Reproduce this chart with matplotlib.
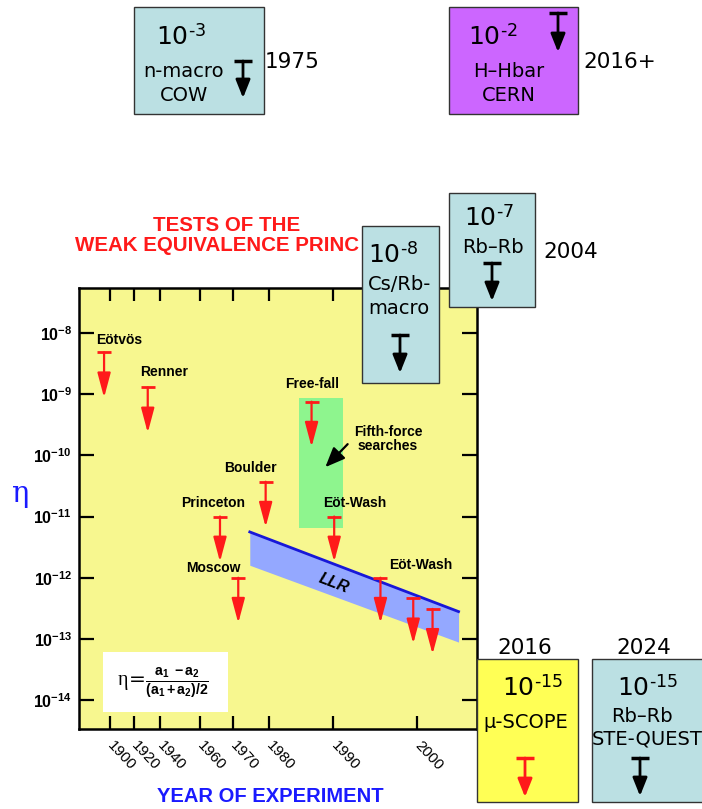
import numpy as np
import matplotlib.pyplot as plt
from matplotlib.patches import Rectangle

plt.rcParams['font.family'] = 'Liberation Sans'
plt.rcParams['mathtext.fontset'] = 'custom'
plt.rcParams['mathtext.rm'] = 'DejaVu Sans'
plt.rcParams['mathtext.bf'] = 'Liberation Sans:bold'
plt.rcParams['mathtext.it'] = 'Liberation Serif'

# --- data -------------------------------------------------------------
# upper limits on eta (the cap of each red arrow)
LIMIT_YEARS = [1895, 1930.5, 1966, 1971.4, 1979, 1986.6, 1990.1, 1995.6, 1999.5, 2001.8]
LIMIT_ETA = [4.8e-9, 1.28e-9, 1e-11, 1e-12, 3.7e-11, 7.5e-10, 1e-11, 1e-12, 4.6e-13, 3.1e-13]

# experiment names
LABELS = ["Eötvös", "Renner", "Princeton", "Moscow", "Boulder", "Free-fall", "Eöt-Wash", "Eöt-Wash"]
LABEL_YEARS = [1888.3, 1924.6, 1950.5, 1953, 1967.3, 1986.7, 1992.5, 2000.4]
LABEL_ETA = [7.6e-9, 2.3e-9, 1.66e-11, 1.44e-12, 6.2e-11, 1.46e-9, 1.66e-11, 1.61e-12]
LABEL_HA = ["left"] * 5 + ["center"] * 3

# fifth-force searches band
FIFTH_YEARS = [1984.7, 1991.1]
FIFTH_ETA = [6.6e-12, 8.6e-10]

# lunar laser ranging band
LLR_YEARS = [1974.6, 2004.9]
LLR_TOP = [5.6e-12, 2.8e-13]
LLR_BOTTOM = [1.6e-12, 8.9e-14]

TICK_YEARS = [1900, 1920, 1940, 1960, 1970, 1980, 1990, 2000]
ETA_TICKS = [1e-14, 1e-13, 1e-12, 1e-11, 1e-10, 1e-9, 1e-8]
ETA_TICK_LABELS = ["-14", "-13", "-12", "-11", "-10", "-9", "-8"]

# boxes for other experiments
BOX_EXP = ["-3", "-2", "-8", "-7", "-15", "-15"]
BOX_NAMES = ["n-macro\nCOW", "H–Hbar\nCERN", "Cs/Rb-\nmacro", "Rb–Rb", "μ-SCOPE", "Rb–Rb\nSTE-QUEST"]
BOX_YEARS = ["1975", "2016+", "2004", "2004", "2016", "2024"]

# --- the non uniform year axis of the original figure ---
AX_YEARS = [1874, 1900, 1920, 1940, 1960, 1970, 1980, 1990, 2000, 2008]
AX_POS = [79, 110, 134, 160, 200, 233, 269, 333, 417, 484]


def fwd(x):
    return np.interp(x, AX_YEARS, AX_POS)


def inv(p):
    return np.interp(p, AX_POS, AX_YEARS)


W, H = 702, 809
fig = plt.figure(figsize=(W / 100, H / 100), dpi=100)

L, R, T, B = 79, 477, 287.5, 729
ax = fig.add_axes([L / W, 1 - B / H, (R - L) / W, (B - T) / H], zorder=1)
ax.set_facecolor('#f7f78f')
ax.set_xscale('function', functions=(fwd, inv))
ax.set_yscale('log')
ax.set_xlim(1874, 2007.1)
ax.set_ylim(10 ** -14.47, 10 ** -7.26)

for sp in ax.spines.values():
    sp.set_linewidth(1.8)
ax.set_xticks(TICK_YEARS)
ax.set_xticklabels([str(y) for y in TICK_YEARS], rotation=-47, ha='left',
                   va='center', rotation_mode='anchor', fontsize=11)
ax.set_yticks(ETA_TICKS)
ax.set_yticklabels([r'$\mathbf{10^{%s}}$' % e for e in ETA_TICK_LABELS], fontsize=11.5)
ax.minorticks_off()
ax.tick_params(axis='x', direction='in', top=True, length=9.5, width=1.6, pad=10)
ax.tick_params(axis='y', direction='in', right=True, length=11, width=1.6, pad=5)

# fifth-force band
ax.fill_between(FIFTH_YEARS, FIFTH_ETA[0], FIFTH_ETA[1], color='#8ef58e', lw=0, zorder=1)

# LLR band
ax.fill_between(LLR_YEARS, LLR_BOTTOM, LLR_TOP, color='#94a8ff', lw=0, zorder=2)
ax.plot(LLR_YEARS, LLR_TOP, color='#1818d8', lw=2, zorder=3)
ax.text(1990, 8.2e-13, "LLR", fontsize=11.5, fontweight='bold', fontstyle='italic',
        rotation=-21, ha='center', va='center', zorder=4)

# red upper-limit arrows
drop = 10 ** -0.74
for yr, eta in zip(LIMIT_YEARS, LIMIT_ETA):
    ax.plot([yr], [eta], marker='_', ms=10, mew=2, color='#ff1a1a', zorder=5)
    ax.annotate('', xy=(yr, eta * drop), xytext=(yr, eta),
                arrowprops=dict(arrowstyle='-|>,head_length=0.75,head_width=0.2',
                                mutation_scale=20, color='#ff1a1a', lw=1.6,
                                shrinkA=0, shrinkB=0), zorder=5)

for name, yr, eta, ha in zip(LABELS, LABEL_YEARS, LABEL_ETA, LABEL_HA):
    ax.text(yr, eta, name, ha=ha, va='center', fontsize=10, fontweight='bold', zorder=6)

ax.text(1996.5, 1.84e-10, "Fifth-force\nsearches", ha='center', va='center',
        fontsize=10, fontweight='bold', linespacing=1.0)
ax.annotate('', xy=(1988.75, 6.4e-11), xytext=(1991.7, 1.52e-10),
            arrowprops=dict(arrowstyle='-|>,head_length=0.6,head_width=0.25',
                            mutation_scale=20, color='black', lw=1.6,
                            shrinkA=0, shrinkB=0))

# formula box
ax.add_patch(Rectangle((0.060, 0.0385), 0.314, 0.1355, transform=ax.transAxes,
                       facecolor='white', edgecolor='none', zorder=6))
ax.text(0.211, 0.106, r'$\eta\!=\!\frac{\mathbf{a_1\ -a_2}}{\mathbf{(a_1+a_2)/2}}$',
        transform=ax.transAxes, ha='center', va='center', fontsize=14.5, zorder=7)

# --- overlay in figure pixels for the titles and the boxes ---
ov = fig.add_axes([0, 0, 1, 1], zorder=5)
ov.set_xlim(0, W)
ov.set_ylim(H, 0)
ov.axis('off')
ov.patch.set_visible(False)

ov.text(227, 225, "TESTS OF THE", color='#ff1a1a', fontsize=14.8, fontweight='bold',
        ha='center', va='center', zorder=1)
ov.text(75, 245, "WEAK EQUIVALENCE PRINC", color='#ff1a1a', fontsize=14.8,
        fontweight='bold', ha='left', va='center', zorder=1)
ov.text(270, 797, "YEAR OF EXPERIMENT", color='#1a1aff', fontsize=14.5,
        fontweight='bold', ha='center', va='center')
ov.text(21, 494, "η", color='#1a1aff', fontsize=21, family='DejaVu Serif',
        ha='center', va='center')

# box geometry: x0, y0, x1, y1, colour
box_geom = [
    (134, 7, 263.5, 114, '#bbe0e3'),
    (448.5, 7, 578, 114, '#cc66ff'),
    (362, 225.5, 438.5, 382.5, '#bbe0e3'),
    (449, 192.5, 535, 307, '#bbe0e3'),
    (477, 659, 578, 802, '#ffff55'),
    (592, 659, 712, 802, '#bbe0e3'),
]
# exponent (left x, y), name lines (x, y, ha), year label (x, y, ha), arrow (x, ycap, ytip, colour)
exp_pos = [(156, 37), (468, 37), (368, 255), (464, 218), (502, 688), (617, 688)]
name_pos = [
    [(183.5, 71, 'center'), (184, 95, 'center')],
    [(509, 71, 'center'), (509, 95, 'center')],
    [(368, 285, 'left'), (368, 308, 'left')],
    [(493, 247, 'center')],
    [(526, 722, 'center')],
    [(642, 717, 'center'), (592, 739, 'left')],
]
year_pos = [(264.5, 62, 'left'), (583.5, 62, 'left'), (543, 252, 'left'),
            (543, 252, 'left'), (525, 648, 'center'), (644, 648, 'center')]
arrow_pos = [(243, 61, 98, 'black'), (558, 13, 52, 'black'), (400, 335, 373, 'black'),
             (492, 263, 301, 'black'), (525, 758, 797, '#ff1a1a'), (640, 758, 796, 'black')]

done_years = set()
for i in range(len(BOX_EXP)):
    x0, y0, x1, y1, c = box_geom[i]
    ov.add_patch(Rectangle((x0, y0), x1 - x0, y1 - y0, facecolor=c,
                           edgecolor='#333333', lw=1.0, zorder=2))
    ex, ey = exp_pos[i]
    ov.text(ex, ey, r'10$^{\text{%s}}$' % BOX_EXP[i], fontsize=18, ha='left',
            va='center', family='DejaVu Sans', zorder=3)
    for line, (nx, ny, nha) in zip(BOX_NAMES[i].split('\n'), name_pos[i]):
        ov.text(nx, ny, line, fontsize=14, ha=nha, va='center',
                family='DejaVu Sans', zorder=3)
    yx, yy, yha = year_pos[i]
    if (yx, yy) not in done_years:
        ov.text(yx, yy, BOX_YEARS[i], fontsize=15.5, ha=yha, va='center',
                family='DejaVu Sans', zorder=3)
        done_years.add((yx, yy))
    axx, ycap, ytip, ac = arrow_pos[i]
    ov.plot([axx - 9, axx + 9], [ycap, ycap], color=ac, lw=2.5,
            solid_capstyle='butt', zorder=4)
    ov.annotate('', xy=(axx, ytip), xytext=(axx, ycap),
                arrowprops=dict(arrowstyle='-|>,head_length=0.55,head_width=0.22',
                                mutation_scale=20, color=ac, lw=2.0,
                                shrinkA=0, shrinkB=0), zorder=4)

fig.savefig('out.png', dpi=100)
